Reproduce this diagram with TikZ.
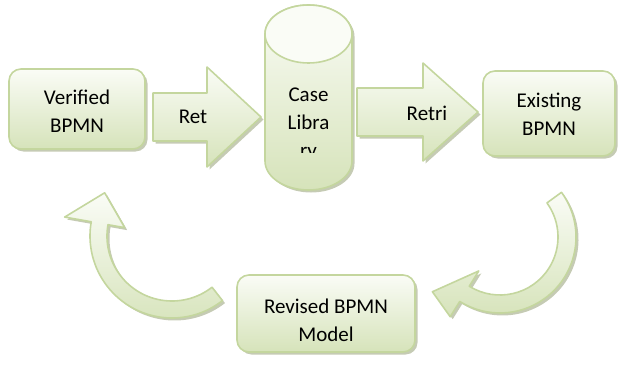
\documentclass[tikz,border=0pt]{standalone}
\usepackage{fontspec}
\setmainfont{Carlito}
\usetikzlibrary{shadows}

\definecolor{rim}{RGB}{196,214,158}
\definecolor{leaf}{RGB}{214,227,186}
\definecolor{pale}{RGB}{250,252,246}
\definecolor{shade}{RGB}{150,160,118}

\tikzset{
  panel/.style={draw=rim, line width=1.6pt, line join=round,
    top color=pale, bottom color=leaf,
    drop shadow={shadow xshift=2.5pt, shadow yshift=-2.5pt, fill=shade, opacity=0.55}},
  box/.style={panel, rounded corners=12pt, inner sep=0pt},
  txt/.style={font=\fontsize{21}{28}\selectfont, align=center, text=black, inner sep=0pt}
}

\begin{document}
\begin{tikzpicture}[x=1pt, y=1pt]
\useasboundingbox (0,0) rectangle (618,365);

% rounded process boxes
\node[box, minimum width=136pt, minimum height=80pt] (verified) at (77,256) {};
\node[box, minimum width=132pt, minimum height=85pt] (existing) at (549,251.5) {};
\node[box, minimum width=178pt, minimum height=77pt] (revised) at (326,51.5) {};

\node[txt] (verifiedtext) at (77,253.5) {Verified\\BPMN};
\node[txt] (existingtext) at (549,251) {Existing\\BPMN};
\node[txt] (revisedtext) at (326,45) {Revised BPMN\\Model};

% block arrows between the boxes and the library
\draw[panel] (153,224) -- (207,224) -- (207,198) -- (261,248)
  -- (207,298) -- (207,272) -- (153,272) -- cycle;
\node[txt] (ret) at (193,248) {Ret};

\draw[panel] (357,229) -- (423,229) -- (423,204) -- (478,253)
  -- (423,302) -- (423,277) -- (357,277) -- cycle;
\node[txt] (retri) at (427,252) {Retri};

% case library cylinder
\draw[panel] (265,331) -- (265,204)
  arc[start angle=180, end angle=360, x radius=43.5, y radius=29]
  -- (352,331)
  arc[start angle=0, end angle=180, x radius=43.5, y radius=29] -- cycle;
\draw[draw=rim, line width=1.6pt, fill=pale] (308.5,331) ellipse[x radius=43.5, y radius=29];
\begin{scope}
  \clip (265,213) rectangle (352,300);
  \node[txt] (library) at (308.5,241) {Case\\Libra\\ry};
\end{scope}

% curved arrow from Existing BPMN down to Revised BPMN Model
\begin{scope}[shift={(500,128)}]
  \draw[panel] (36:76) arc[start angle=36, end angle=-122, radius=76]
    -- (-122:94) -- (-141:87) -- (-122:40) -- (-122:58)
    arc[start angle=-122, end angle=36, radius=58] -- cycle;
\end{scope}

% curved arrow from Revised BPMN Model up to Verified BPMN
\begin{scope}[shift={(172,129)}]
  \draw[panel] (-52:82) arc[start angle=-52, end angle=-190, radius=82]
    -- (-190:109) -- (-212.7:80) -- (-190:48) -- (-190:65)
    arc[start angle=-190, end angle=-52, radius=65] -- cycle;
\end{scope}
\end{tikzpicture}
\end{document}
